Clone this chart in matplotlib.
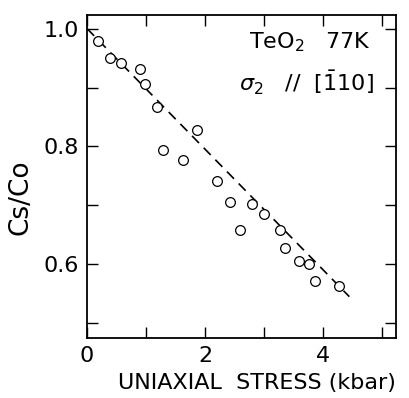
import matplotlib
matplotlib.use("Agg")
import matplotlib.pyplot as plt

# data
stress = [0.18, 0.38, 0.57, 0.89, 0.98, 1.19, 1.29, 1.62, 1.86, 2.20,
          2.42, 2.60, 2.80, 3.00, 3.28, 3.35, 3.60, 3.76, 3.86, 4.28]
ratio = [0.979, 0.951, 0.941, 0.932, 0.906, 0.867, 0.794, 0.777, 0.828, 0.741,
         0.706, 0.659, 0.702, 0.685, 0.658, 0.627, 0.606, 0.601, 0.571, 0.563]
fit_x = [0.0, 4.45]
fit_y = [1.0, 0.545]

x_ticks = [0, 1, 2, 3, 4, 5]
x_labels = ["0", "", "2", "", "4", ""]
y_ticks = [0.5, 0.6, 0.7, 0.8, 0.9, 1.0]
y_labels = ["", "0.6", "", "0.8", "", "1.0"]

plt.rcParams['font.family'] = ['DejaVu Sans']

fig = plt.figure(figsize=(4.09, 3.98), dpi=100)
ax = fig.add_axes([0.213, 0.151, 0.755, 0.811])

ax.plot(fit_x, fit_y, color='black', linestyle=(0, (6, 4)), linewidth=1.2)
ax.plot(stress, ratio, linestyle='none', marker='o', markersize=7,
        markerfacecolor='white', markeredgecolor='black', markeredgewidth=0.9)

ax.set_xlim(0, 5.24)
ax.set_ylim(0.475, 1.023)
ax.set_xticks(x_ticks)
ax.set_xticklabels(x_labels)
ax.set_yticks(y_ticks)
ax.set_yticklabels(y_labels)
ax.tick_params(direction='in', length=8, width=1, top=True, right=True,
               labelsize=16, pad=6)
for s in ax.spines.values():
    s.set_linewidth(1.3)

ax.set_xlabel("UNIAXIAL  STRESS (kbar)", fontsize=16)
ax.xaxis.set_label_coords(0.549, -0.11)
ax.set_ylabel("Cs/Co", fontsize=19)
ax.yaxis.set_label_coords(-0.175, 0.437)

ax.text(0.92, 0.915, "TeO$_2$   77K", transform=ax.transAxes, fontsize=16,
        ha='right', va='center')
ax.text(0.93, 0.79, r"$\sigma_2$   //  [$\bar{1}$10]", transform=ax.transAxes,
        fontsize=16, ha='right', va='center')

fig.savefig("out.png", dpi=100)
